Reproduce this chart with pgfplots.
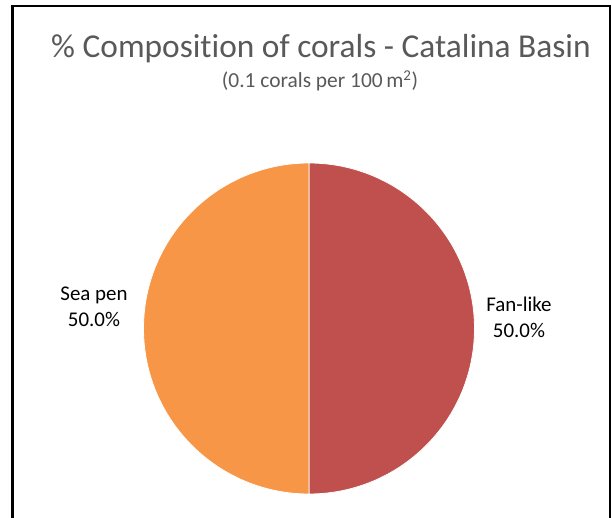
\documentclass[border=0pt]{standalone}
\usepackage{pgfplots}
\usepackage{pgfplotstable}
\usepackage{fontspec}
\setmainfont[Ligatures=NoCommon]{Carlito}
\pgfplotsset{compat=1.18}
\definecolor{fanred}{HTML}{C0504D}
\definecolor{seaorange}{HTML}{F79646}
\definecolor{titlegray}{HTML}{595959}

% slices in Excel order: clockwise from 12 o'clock
\pgfplotstableread{
label value
Fan-like 1
{Sea pen} 1
}\piedata
\pgfplotstablegetelem{0}{value}\of\piedata \let\fanval\pgfplotsretval
\pgfplotstablegetelem{1}{value}\of\piedata \let\seaval\pgfplotsretval
\pgfmathsetmacro\total{\fanval+\seaval}%
\pgfmathsetmacro\fanend{90-360*\fanval/\total}%
\pgfmathsetmacro\seaend{\fanend-360*\seaval/\total}%
\pgfmathsetmacro\fanpct{100*\fanval/\total}%
\pgfmathsetmacro\seapct{100*\seaval/\total}%

\begin{document}
\begin{tikzpicture}
\begin{axis}[scale only axis, width=612bp, height=518bp,
  xmin=0, xmax=612, ymin=0, ymax=518, hide axis, clip=false]
\coordinate (ll) at (axis cs:0,0);
\coordinate (ur) at (axis cs:612,518);
% frame
\draw[black, line width=2.5bp] (axis cs:12.5,0) -- (axis cs:12.5,512) -- (axis cs:610,512) -- (axis cs:610,0);
% pie
\fill[fanred, draw=white, line width=0.8bp] (axis cs:309,189.5) -- ++(90:165.5bp)
  arc[start angle=90, end angle=\fanend, radius=165.5bp] -- cycle;
\fill[seaorange, draw=white, line width=0.8bp] (axis cs:309,189.5) -- ++(\fanend:165.5bp)
  arc[start angle=\fanend, end angle=\seaend, radius=165.5bp] -- cycle;
% titles
\node[anchor=base, text=titlegray, font=\fontsize{33.5}{40}\selectfont] at (axis cs:321,460)
  {\% Composition of corals - Catalina Basin};
\node[anchor=base, text=titlegray, font=\fontsize{21.5}{26}\selectfont] at (axis cs:320,430)
  {(0.1 corals per 100\,m\textsuperscript{2})};
% data labels
\node[anchor=base, font=\fontsize{21}{25}\selectfont] at (axis cs:94,217) {Sea pen};
\node[anchor=base, font=\fontsize{21}{25}\selectfont] at (axis cs:94,191)
  {\pgfmathprintnumber[fixed, fixed zerofill, precision=1, assume math mode=true]{\seapct}\%};
\node[anchor=base, font=\fontsize{21}{25}\selectfont] at (axis cs:519,206) {Fan-like};
\node[anchor=base, font=\fontsize{21}{25}\selectfont] at (axis cs:519,180)
  {\pgfmathprintnumber[fixed, fixed zerofill, precision=1, assume math mode=true]{\fanpct}\%};
\end{axis}
\pgfresetboundingbox
\path (ll) rectangle (ur);
\end{tikzpicture}
\end{document}
